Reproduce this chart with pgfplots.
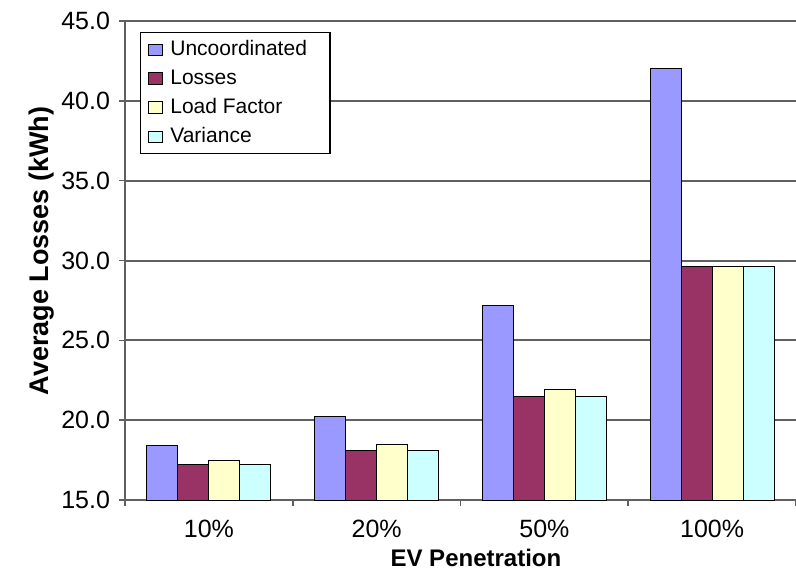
\documentclass[border=0pt]{standalone}
\usepackage{fontspec}
\setmainfont{Liberation Sans}
\usepackage{pgfplots}
\pgfplotsset{compat=1.18}

\definecolor{uncoord}{HTML}{9999FF}
\definecolor{losses}{HTML}{993366}
\definecolor{loadfactor}{HTML}{FFFFCC}
\definecolor{variance}{HTML}{CCFFFF}
\definecolor{gridgray}{HTML}{606060}

\pgfplotsset{
  sq legend/.style={legend image code/.code={
    \draw[##1, draw=black, line width=0.5pt] (0pt,-2.8pt) rectangle (7pt,2.8pt);}},
}

\begin{document}
\begin{tikzpicture}
\begin{axis}[
    scale only axis,
    width=335.5pt, height=239.5pt,
    at={(0,0)}, anchor=south west,
    ybar=0pt, bar width=15.5pt,
    xmin=-0.5, xmax=3.5,
    ymin=15, ymax=45,
    ytick={15,20,...,45},
    yticklabel style={xshift=-1pt, /pgf/number format/.cd, fixed, fixed zerofill, precision=1},
    /pgf/number format/assume math mode=true,
    xtick={-0.5,0.5,1.5,2.5,3.5}, xticklabels={},
    extra x ticks={0,1,2,3},
    extra x tick labels={10\%,20\%,50\%,100\%},
    extra x tick style={major tick length=0pt, xticklabel style={yshift=-6.5pt}},
    axis x line*=bottom, axis y line*=left,
    axis line style={gridgray, line width=0.8pt},
    ymajorgrids, grid style={gridgray, line width=1pt},
    tick align=outside, major tick length=3pt,
    tick style={gridgray, line width=0.8pt},
    tick label style={font=\fontsize{12.5}{15}\selectfont},
    xlabel={EV Penetration},
    ylabel={Average Losses (kWh)},
    xlabel style={font=\bfseries\fontsize{12}{14}\selectfont,
      at={(axis description cs:0.523,-0.121)}, anchor=center},
    ylabel style={font=\bfseries\fontsize{13.5}{16}\selectfont,
      at={(axis description cs:-0.125,0.52)}, anchor=center},
    legend style={at={(axis description cs:0.022,0.977)}, anchor=north west,
      draw=black, line width=0.6pt, fill=white,
      font=\fontsize{10.5}{12}\selectfont, row sep=1.5pt,
      inner xsep=4pt, inner ysep=2pt},
    legend cell align=left,
]
\addplot[fill=uncoord, draw=black, line width=0.5pt, sq legend]
  coordinates {(0,18.4) (1,20.2) (2,27.2) (3,42.0)};
\addlegendentry{\hspace{1.5pt}Uncoordinated\rule{5.5pt}{0pt}}
\addplot[fill=losses, draw=black, line width=0.5pt, sq legend]
  coordinates {(0,17.2) (1,18.1) (2,21.5) (3,29.6)};
\addlegendentry{\hspace{1.5pt}Losses}
\addplot[fill=loadfactor, draw=black, line width=0.5pt, sq legend]
  coordinates {(0,17.5) (1,18.5) (2,21.9) (3,29.6)};
\addlegendentry{\hspace{1.5pt}Load Factor}
\addplot[fill=variance, draw=black, line width=0.5pt, sq legend]
  coordinates {(0,17.2) (1,18.1) (2,21.5) (3,29.6)};
\addlegendentry{\hspace{1.5pt}Variance}
\end{axis}
\pgfresetboundingbox
\path[use as bounding box] (-62.5pt,-35pt) rectangle (335.5pt,250pt);
\end{tikzpicture}
\end{document}
